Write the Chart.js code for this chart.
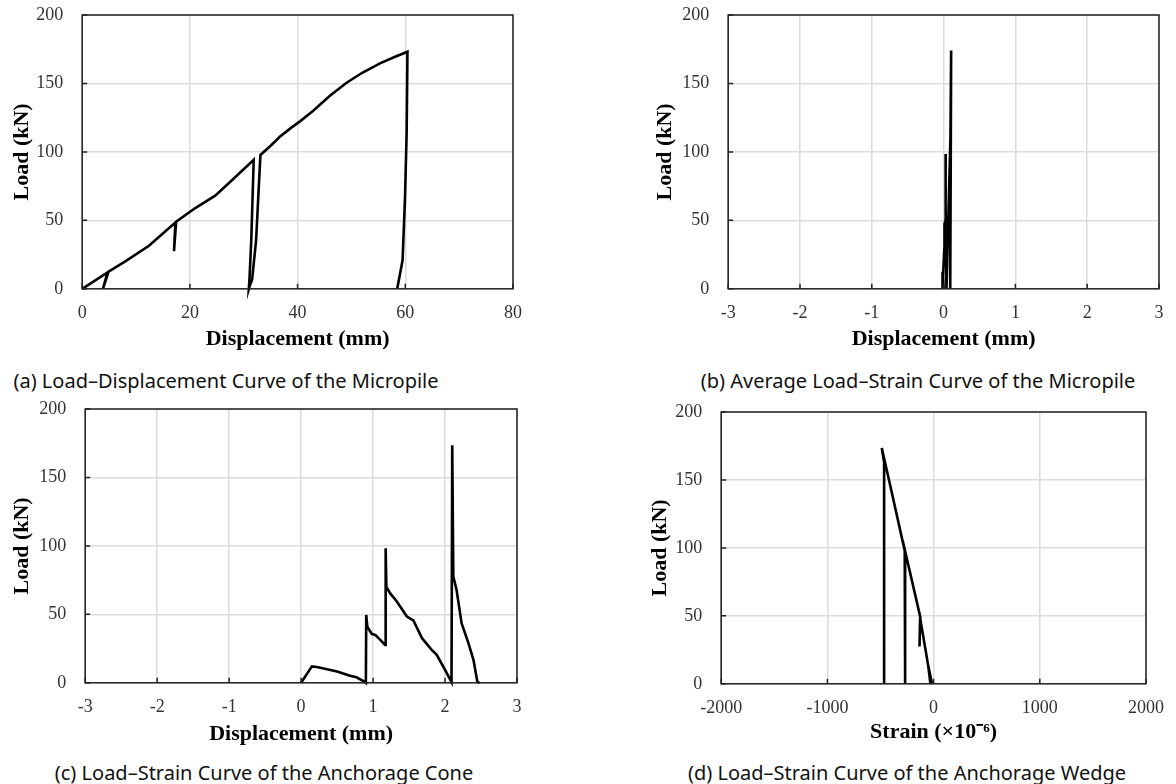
<!DOCTYPE html>
<html>
<head>
<meta charset="utf-8">
<script src="https://cdn.jsdelivr.net/npm/chart.js@4.4.1/dist/chart.umd.min.js"></script>
<style>
  body { margin: 0; background: #fff; width: 1176px; height: 784px; position: relative; overflow: hidden; }
  .panel { position: absolute; }
  .cap { position: absolute; font-family: "Noto Sans", sans-serif; font-size: 20px; color: #111;
         white-space: nowrap; transform: translate(-50%, -50%); }
</style>
</head>
<body>
<div class="panel" id="pa"><canvas id="ca"></canvas></div>
<div class="panel" id="pb"><canvas id="cb"></canvas></div>
<div class="panel" id="pc"><canvas id="cc"></canvas></div>
<div class="panel" id="pd"><canvas id="cd"></canvas></div>

<div class="cap" style="left:226px; top:380px;">(a) Load–Displacement Curve of the Micropile</div>
<div class="cap" style="left:918px; top:380px;">(b) Average Load–Strain Curve of the Micropile</div>
<div class="cap" style="left:264px; top:772px;">(c) Load–Strain Curve of the Anchorage Cone</div>
<div class="cap" style="left:907px; top:772px;">(d) Load–Strain Curve of the Anchorage Wedge</div>

<script>
// (a) load - displacement of the micropile
var aDisp = [0, 4.7, 3.85, 4.9, 8, 12.4, 17.3, 17.05, 17.45, 21, 24.7, 28, 31.85, 31.4, 31.1, 30.95, 31.1, 31.55, 32.3, 32.8, 33.1,
             35, 36.7, 38.6, 40.5, 42.9, 46, 49.1, 52, 55.3, 58, 60.4, 60.25, 59.95, 59.5, 58.5];
var aLoad = [0, 12, 0, 12.5, 20, 31.4, 48.5, 27.5, 49, 59, 68, 80, 94.2, 35.8, 10, 0, 2, 6.6, 35.8, 75, 97.8,
             104.5, 111, 117, 122.5, 130, 141, 150.5, 157.8, 164.7, 169.3, 173.2, 113.6, 67, 21, 0];

// (b) average load - strain of the micropile
var bDisp = [0, -0.01, -0.015, -0.005, 0.01, 0.015, 0.01, 0.02, 0.025, 0.03, 0.03, 0.035, 0.04, 0.06, 0.08, 0.095, 0.105, 0.1, 0.095, 0.09];
var bLoad = [0, 12.5, 0, 12, 30, 48, 28, 49, 75, 98.5, 60, 20, 0, 40, 80, 110, 174, 100, 40, 0];

// (c) load - strain of the anchorage cone
var cDisp = [0, 0.15, 0.22, 0.5, 0.68, 0.77, 0.89, 0.9, 0.905, 0.92, 0.98, 1.03, 1.1, 1.167, 1.172, 1.178, 1.185, 1.236, 1.33, 1.47,
             1.56, 1.68, 1.815, 1.885, 2.0, 2.09, 2.1, 2.115, 2.16, 2.23, 2.325, 2.395, 2.45, 2.48];
var cLoad = [0, 12, 11.5, 8.3, 5.1, 4, 0.5, 0, 49.6, 41, 35.8, 35, 31.4, 27.7, 98.3, 98, 70, 65.5, 59.4, 48.4,
             45.5, 32.6, 24.1, 20.4, 9.5, 0.5, 173.5, 77.6, 67.9, 43.6, 29, 16.8, 0.5, 0];

// (d) load - strain of the anchorage wedge
var dStrain = [-15, -48, -30, -50, -127, -133, -125, -268, -268, -272, -400, -488, -466, -466];
var dLoad = [0, 12.5, 0, 13, 48.5, 27.5, 49, 97.5, 0, 98, 143, 173.5, 163, 0];

// axis ticks
var loadTicks = [0, 50, 100, 150, 200];
var aTicks = [0, 20, 40, 60, 80];
var mmTicks = [-3, -2, -1, 0, 1, 2, 3];
var strainTicks = [-2000, -1000, 0, 1000, 2000];

var serif = '"Liberation Serif", "Times New Roman", serif';
Chart.defaults.font.family = serif;

function pts(xs, ys) {
  return xs.map(function (v, i) { return { x: v, y: ys[i] }; });
}

// frame round the plot area plus short inward tick marks
var frame = {
  id: 'frame',
  afterDraw: function (chart) {
    var ctx = chart.ctx, a = chart.chartArea, x = chart.scales.x, y = chart.scales.y;
    ctx.save();
    ctx.strokeStyle = '#222';
    ctx.lineWidth = 1.5;
    ctx.beginPath();
    x.ticks.forEach(function (t) {
      var px = x.getPixelForValue(t.value);
      ctx.moveTo(px, a.bottom); ctx.lineTo(px, a.bottom - 5);
    });
    y.ticks.forEach(function (t) {
      var py = y.getPixelForValue(t.value);
      ctx.moveTo(a.left, py); ctx.lineTo(a.left + 5, py);
    });
    ctx.stroke();
    ctx.strokeRect(a.left, a.top, a.right - a.left, a.bottom - a.top);
    ctx.restore();
  }
};

function noPad(s) {
  s.paddingLeft = 0; s.paddingRight = 0; s.paddingTop = 0; s.paddingBottom = 0;
}

function panel(id, box, xs, ys, xTicks, xTitle) {
  var yW = box.yOff + 13.2;          // room left of the axis
  var xH = box.xOff + 13.2;          // room below the axis
  var left = box.l - yW, top = box.t - 15;
  var w = box.r + box.pr - left, h = box.b + xH - top;
  var div = document.getElementById('p' + id);
  div.style.left = left + 'px'; div.style.top = top + 'px';
  var cv = document.getElementById('c' + id);
  cv.width = w; cv.height = h;
  cv.style.width = w + 'px'; cv.style.height = h + 'px';

  new Chart(cv.getContext('2d'), {
    type: 'scatter',
    data: {
      datasets: [{
        data: pts(xs, ys),
        showLine: true,
        borderColor: '#000',
        borderWidth: 2.6,
        pointRadius: 0,
        tension: 0,
        clip: false
      }]
    },
    options: {
      responsive: false,
      animation: false,
      devicePixelRatio: 1,
      layout: { padding: { left: 0, top: 15, right: box.pr, bottom: 0 } },
      plugins: { legend: { display: false }, tooltip: { enabled: false } },
      scales: {
        x: {
          min: xTicks[0], max: xTicks[xTicks.length - 1],
          afterBuildTicks: function (s) { s.ticks = xTicks.map(function (v) { return { value: v }; }); },
          afterFit: function (s) { s.height = xH; noPad(s); },
          grid: { color: '#dcdcdc', lineWidth: 1.5, drawTicks: false },
          border: { display: false },
          ticks: { autoSkip: false, maxRotation: 0, padding: 14, color: '#333',
                   font: { family: serif, size: 18 },
                   callback: function (v) { return String(v); } },
          title: { display: true, text: xTitle, color: '#000', padding: 0,
                   font: { family: serif, size: 22, weight: 'bold' } }
        },
        y: {
          min: 0, max: 200,
          afterBuildTicks: function (s) { s.ticks = loadTicks.map(function (v) { return { value: v }; }); },
          afterFit: function (s) { s.width = yW; noPad(s); },
          grid: { color: '#dcdcdc', lineWidth: 1.5, drawTicks: false },
          border: { display: false },
          ticks: { padding: 19, color: '#333', font: { family: serif, size: 18 },
                   callback: function (v) { return String(v); } },
          title: { display: true, text: 'Load (kN)', color: '#000', padding: 0,
                   font: { family: serif, size: 22, weight: 'bold' } }
        }
      }
    },
    plugins: [frame]
  });
}

panel('a', { l: 82, t: 15, r: 513, b: 289, yOff: 60, xOff: 51, pr: 25 }, aDisp, aLoad, aTicks, 'Displacement (mm)');
panel('b', { l: 728, t: 15, r: 1159, b: 289, yOff: 63, xOff: 51, pr: 17 }, bDisp, bLoad, mmTicks, 'Displacement (mm)');
panel('c', { l: 85, t: 409, r: 517, b: 683, yOff: 63, xOff: 52, pr: 25 }, cDisp, cLoad, mmTicks, 'Displacement (mm)');
panel('d', { l: 721, t: 412, r: 1146, b: 684, yOff: 61, xOff: 49, pr: 28 }, dStrain, dLoad, strainTicks, 'Strain (×10⁻⁶)');
</script>
</body>
</html>
